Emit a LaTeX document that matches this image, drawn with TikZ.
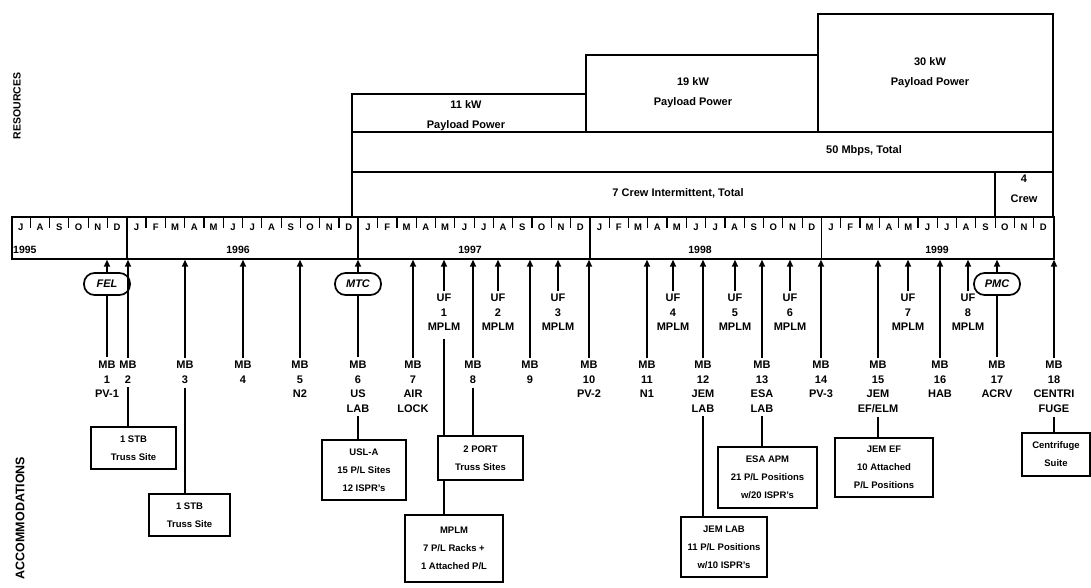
\documentclass[tikz,border=0pt]{standalone}
\usepackage{fontspec}
\setmainfont{Liberation Sans}
\usetikzlibrary{arrows.meta}
\begin{document}
\begin{tikzpicture}[x=1pt,y=-1pt,
  every node/.style={inner sep=0pt},
  ln/.style={line width=1.7pt},
  arr/.style={line width=1.7pt, shorten <=3pt, -{Triangle[length=7pt,width=6pt]}},
  frame/.style={draw, line width=1.7pt},
  lbl/.style={align=center, font=\fontsize{11}{14.5}\selectfont\bfseries},
  bxt/.style={draw, line width=1.6pt, align=center, fill=white, font=\fontsize{9.5}{18}\selectfont\bfseries},
  mon/.style={font=\fontsize{9.5}{10}\selectfont\bfseries},
  yr/.style={font=\fontsize{10.5}{12}\selectfont\bfseries},
  ovl/.style={draw, line width=1.7pt, rounded corners=10.5pt, minimum width=46pt, minimum height=22pt, fill=white, font=\fontsize{11}{12}\selectfont\bfseries\itshape},
  rtxt/.style={align=center, font=\fontsize{11}{20}\selectfont\bfseries},
  side/.style={rotate=90, font=\fontsize{10.5}{12}\selectfont\bfseries},
]
\useasboundingbox (0,0) rectangle (1091,588);

% ---------------- resources ----------------
\draw[frame] (352,216) -- (352,94) -- (586,94) -- (586,55) -- (818,55) -- (818,14) -- (1053,14) -- (1053,216);
\draw[frame] (586,94) -- (586,132);
\draw[frame] (818,55) -- (818,132);
\draw[frame] (352,132) -- (1053,132);
\draw[frame] (352,172) -- (1053,172);
\draw[frame] (995.1,172) -- (995.1,216);
\node[rtxt] (t11) at (466,116) {11 kW\\Payload Power};
\node[rtxt] (t19) at (693,93) {19 kW\\Payload Power};
\node[rtxt] (t30) at (930,73) {30 kW\\Payload Power};
\node[rtxt] (tmb) at (864,151) {50 Mbps, Total};
\node[rtxt] (tcrew) at (678,193) {7 Crew Intermittent, Total};
\node[rtxt] (t4) at (1024,189) {4\\Crew};

\node[side] (res) at (17,106) {RESOURCES};
\node[side, font=\fontsize{12.5}{14}\selectfont\bfseries] (acc) at (20,518) {ACCOMMODATIONS};

% ---------------- timeline ----------------
\node[frame, minimum width=1042pt, minimum height=42pt, anchor=north west] (bar) at (11,216) {};
\foreach \i in {1,...,53} \draw[line width=1.2pt] ({11+\i*19.296},216) -- ++(0,12);
\foreach \i in {6,18,30,42} \draw[frame] ({11+\i*19.296},216) -- ++(0,42);
\foreach \m [count=\i from 0] in {J,A,S,O,N,D,J,F,M,A,M,J,J,A,S,O,N,D,J,F,M,A,M,J,J,A,S,O,N,D,J,F,M,A,M,J,J,A,S,O,N,D,J,F,M,A,M,J,J,A,S,O,N,D}
  \node[mon] (m\i) at ({11+(\i+0.5)*19.296},227) {\m};
\node[yr, anchor=west] (y95) at (13,250) {1995};
\node[yr] (y96) at (238,250) {1996};
\node[yr] (y97) at (470,250) {1997};
\node[yr] (y98) at (700,250) {1998};
\node[yr] (y99) at (937,250) {1999};

% ---------------- ovals ----------------
\node[ovl] (fel) at (107,284) {FEL};
\node[ovl] (mtc) at (358,284) {MTC};
\node[ovl] (pmc) at (997,284) {PMC};

% ---------------- MB labels ----------------
\node[lbl, anchor=north] (mb1) at (107,361) {MB\\1\\PV-1};
\node[lbl, anchor=north] (mb2) at (128,361) {MB\\2};
\node[lbl, anchor=north] (mb3) at (185,361) {MB\\3};
\node[lbl, anchor=north] (mb4) at (243,361) {MB\\4};
\node[lbl, anchor=north] (mb5) at (300,361) {MB\\5\\N2};
\node[lbl, anchor=north] (mb6) at (358,361) {MB\\6\\US\\LAB};
\node[lbl, anchor=north] (mb7) at (413,361) {MB\\7\\AIR\\LOCK};
\node[lbl, anchor=north] (mb8) at (473,361) {MB\\8};
\node[lbl, anchor=north] (mb9) at (530,361) {MB\\9};
\node[lbl, anchor=north] (mb10) at (589,361) {MB\\10\\PV-2};
\node[lbl, anchor=north] (mb11) at (647,361) {MB\\11\\N1};
\node[lbl, anchor=north] (mb12) at (703,361) {MB\\12\\JEM\\LAB};
\node[lbl, anchor=north] (mb13) at (762,361) {MB\\13\\ESA\\LAB};
\node[lbl, anchor=north] (mb14) at (821,361) {MB\\14\\PV-3};
\node[lbl, anchor=north] (mb15) at (878,361) {MB\\15\\JEM\\EF/ELM};
\node[lbl, anchor=north] (mb16) at (940,361) {MB\\16\\HAB};
\node[lbl, anchor=north] (mb17) at (997,361) {MB\\17\\ACRV};
\node[lbl, anchor=north] (mb18) at (1054,361) {MB\\18\\CENTRI\\FUGE};

% ---------------- UF labels ----------------
\node[lbl, anchor=north] (uf1) at (444,294) {UF\\1\\MPLM};
\node[lbl, anchor=north] (uf2) at (498,294) {UF\\2\\MPLM};
\node[lbl, anchor=north] (uf3) at (558,294) {UF\\3\\MPLM};
\node[lbl, anchor=north] (uf4) at (673,294) {UF\\4\\MPLM};
\node[lbl, anchor=north] (uf5) at (735,294) {UF\\5\\MPLM};
\node[lbl, anchor=north] (uf6) at (790,294) {UF\\6\\MPLM};
\node[lbl, anchor=north] (uf7) at (908,294) {UF\\7\\MPLM};
\node[lbl, anchor=north] (uf8) at (968,294) {UF\\8\\MPLM};

% ---------------- arrows to the timeline ----------------
\foreach \n in {fel,mtc,pmc}
  \draw[arr, shorten <=0pt] (\n.north) -- (\n.north |- bar.south);
\foreach \n in {mb2,mb3,mb4,mb5,mb7,mb8,mb9,mb10,mb11,mb12,mb13,mb14,mb15,mb16,mb18,uf1,uf2,uf3,uf4,uf5,uf6,uf7,uf8}
  \draw[arr] (\n.north) -- (\n.north |- bar.south);
\draw[ln, shorten >=4pt] (fel.south) -- (mb1.north);
\draw[ln, shorten >=4pt] (mtc.south) -- (mb6.north);
\draw[ln, shorten >=4pt] (pmc.south) -- (mb17.north);

% ---------------- accommodation boxes ----------------
\node[bxt, minimum width=85pt, minimum height=42pt] (box1) at (133.5,448) {1 STB\\Truss Site};
\node[bxt, minimum width=81pt, minimum height=42pt] (box2) at (189.5,515) {1 STB\\Truss Site};
\node[bxt, minimum width=84pt, minimum height=60pt] (usla) at (364,470) {USL-A\\15 P/L Sites\\12 ISPR's};
\node[bxt, minimum width=98pt, minimum height=67pt] (mplm) at (454,548.5) {MPLM\\7 P/L Racks +\\1 Attached P/L};
\draw[ln, shorten <=8pt] (uf1.south) -- (uf1.south |- mplm.north);
\node[bxt, minimum width=85pt, minimum height=44pt] (port2) at (480.5,458) {2 PORT\\Truss Sites};
\node[bxt, minimum width=86pt, minimum height=60pt] (jeml) at (724,547) {JEM LAB\\11 P/L Positions\\w/10 ISPR's};
\node[bxt, minimum width=99pt, minimum height=61pt] (esa) at (767.5,477.5) {ESA APM\\21 P/L Positions\\w/20 ISPR's};
\node[bxt, minimum width=98pt, minimum height=59pt] (jemef) at (884,467.5) {JEM EF\\10 Attached\\P/L Positions};
\node[bxt, minimum width=68pt, minimum height=43pt] (cent) at (1056,454.5) {Centrifuge\\Suite};

\foreach \a/\b in {mb2/box1,mb3/box2,mb6/usla,mb8/port2,mb12/jeml,mb13/esa,mb15/jemef,mb18/cent}
  \draw[ln, shorten <=4pt] (\a.south) -- (\a.south |- \b.north);
\end{tikzpicture}
\end{document}
